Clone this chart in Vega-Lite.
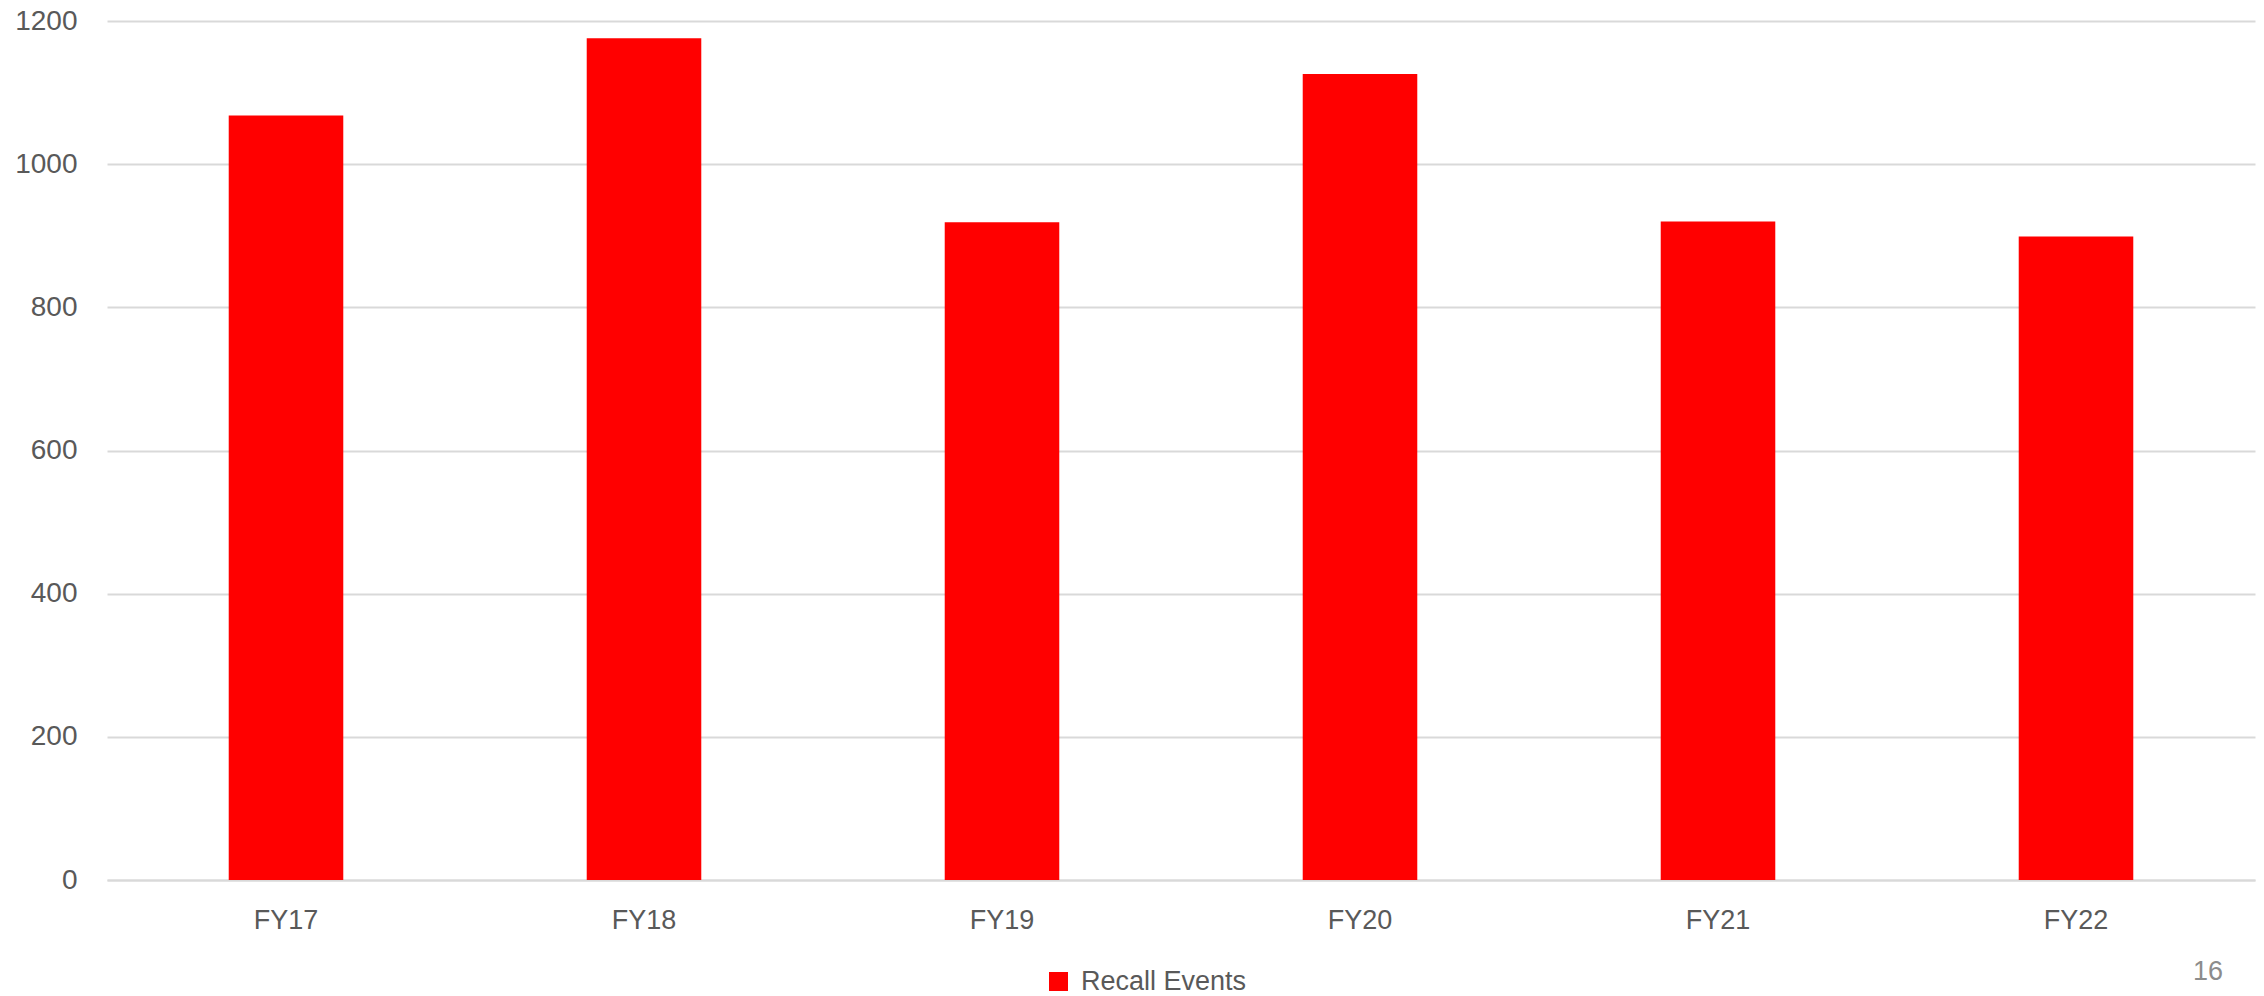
{
  "$schema": "https://vega.github.io/schema/vega-lite/v6.json",
  "width": 2148,
  "height": 859,
  "autosize": {"type": "none"},
  "padding": {"left": 107, "top": 21, "right": 9, "bottom": 116},
  "background": "white",
  "data": {
    "values": [
      {"year": "FY17", "value": 1068, "series": "Recall Events"},
      {"year": "FY18", "value": 1176, "series": "Recall Events"},
      {"year": "FY19", "value": 919, "series": "Recall Events"},
      {"year": "FY20", "value": 1126, "series": "Recall Events"},
      {"year": "FY21", "value": 920, "series": "Recall Events"},
      {"year": "FY22", "value": 899, "series": "Recall Events"}
    ]
  },
  "title": {
    "text": "16",
    "orient": "bottom",
    "anchor": "end",
    "color": "#8c8c8c",
    "fontSize": 27,
    "font": "Liberation Sans",
    "fontWeight": "normal",
    "offset": -36,
    "dx": -32
  },
  "mark": {"type": "bar", "color": "#ff0000"},
  "encoding": {
    "x": {
      "field": "year",
      "type": "nominal",
      "sort": null,
      "scale": {"paddingInner": 0.68, "paddingOuter": 0.34},
      "axis": {
        "title": null,
        "labelAngle": 0,
        "labelFont": "Liberation Sans",
        "labelFontSize": 27,
        "labelColor": "#595959",
        "labelPadding": 27,
        "ticks": false,
        "domain": true,
        "domainColor": "#d9d9d9",
        "domainWidth": 2,
        "grid": false
      }
    },
    "y": {
      "field": "value",
      "type": "quantitative",
      "scale": {"domain": [0, 1200], "nice": false},
      "axis": {
        "title": null,
        "values": [0, 200, 400, 600, 800, 1000, 1200],
        "format": "d",
        "labelFont": "Liberation Sans",
        "labelFontSize": 28,
        "labelColor": "#595959",
        "labelPadding": 30,
        "ticks": false,
        "domain": false,
        "grid": true,
        "gridColor": "#d9d9d9",
        "gridWidth": 2
      }
    },
    "color": {
      "field": "series",
      "type": "nominal",
      "scale": {"range": ["#ff0000"]},
      "legend": {
        "title": null,
        "orient": "none",
        "legendX": 938,
        "legendY": 947,
        "symbolType": "square",
        "symbolSize": 361,
        "symbolStrokeWidth": 0,
        "labelFont": "Liberation Sans",
        "labelFontSize": 27,
        "labelColor": "#595959",
        "labelOffset": 9,
        "labelLimit": 400
      }
    }
  },
  "config": {"view": {"stroke": null}}
}
